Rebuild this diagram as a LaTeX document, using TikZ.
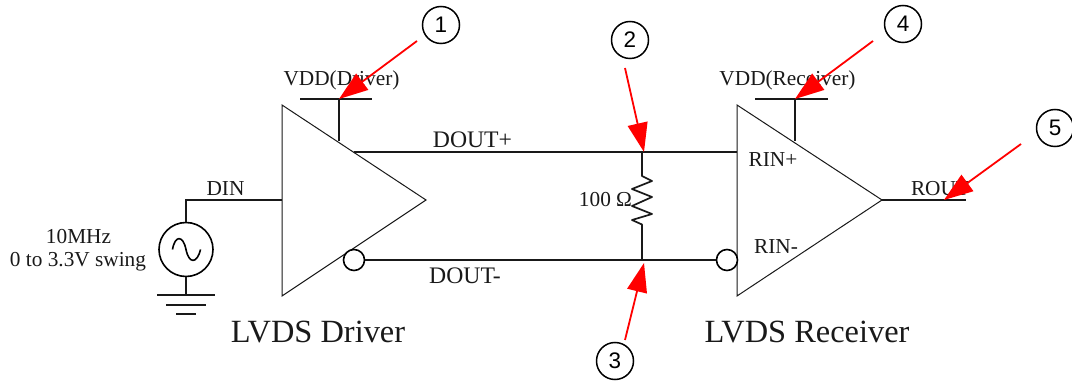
\documentclass[tikz,border=0pt]{standalone}
\usepackage{fontspec}
\setmainfont{Liberation Serif}
\newfontfamily\numfont{Liberation Sans}
\usetikzlibrary{arrows.meta}
\tikzset{
  x=1pt,y=-1pt,
  wire/.style={line width=1.7pt,black!90},
  amp/.style={line width=1pt,black!90,line join=miter},
  callout/.style={line width=1.8pt,red,-{Triangle[length=29pt,width=20pt]},shorten >=0pt},
  badge/.style={circle,draw,line width=1.5pt,minimum size=37pt,inner sep=0pt,font=\numfont\fontsize{22.5}{26}\selectfont},
  bubble/.style={circle,draw,line width=1.6pt,minimum size=21pt,inner sep=0pt,fill=white},
  lab/.style={inner sep=0pt,font=\fontsize{21.3}{24}\selectfont,text=black!90},
  siglab/.style={inner sep=0pt,font=\fontsize{23.7}{26}\selectfont,text=black!90},
  big/.style={inner sep=0pt,font=\fontsize{32.4}{36}\selectfont,text=black!90},
}
\begin{document}
\begin{tikzpicture}
\useasboundingbox (0,0) rectangle (1072,382);
% coordinates
\coordinate (vddA) at (339,99);
\coordinate (vddB) at (795,99);
\coordinate (tapP) at (642,152);
\coordinate (tapN) at (642,260);
\coordinate (rout) at (966,200);
\coordinate (din) at (186,200);
% amplifiers
\draw[amp] (282,105) -- (426,200) -- (282,296) -- cycle;
\draw[amp] (737,105) -- (882,200) -- (737,296) -- cycle;
% supplies
\draw[wire] (300,99) -- (372,99);
\draw[wire] (vddA) -- (339,141);
\draw[wire] (755,99) -- (828,99);
\draw[wire] (vddB) -- (795,141);
% source
\node[circle,draw,line width=1.6pt,minimum size=54pt,inner sep=0pt] (src) at (186,249.5) {};
\draw[line width=1.6pt] (172.5,249.5) .. controls (175,235) and (183,235) .. (186,249.5) .. controls (189,264) and (197,264) .. (200.5,249.5);
\draw[wire] (src.north) -- (din) -- (282,200);
\draw[wire] (src.south) -- (186,295);
\draw[wire] (157,295) -- (215,295);
\draw[wire] (166,305) -- (206,305);
\draw[wire] (176,314) -- (196,314);
% signal lines
\node[bubble] (bubA) at (354,260) {};
\node[bubble] (bubB) at (727,260) {};
\draw[wire] (354,152) -- (tapP) -- (737,152);
\draw[wire] (bubA) -- (tapN) -- (bubB);
\draw[wire] (882,200) -- (rout);
\draw[wire,line join=round] (tapP) -- (642,176) -- (652,181) -- (632,189) -- (652,197) -- (632,206) -- (652,214) -- (632,220) -- (642,224.5) -- (tapN);
% labels
\node[lab] (l1) at (341.5,80.5) {VDD(Driver)};
\node[lab] (l2) at (787.5,80.5) {VDD(Receiver)};
\node[lab] (l3) at (225.5,188.5) {DIN};
\node[siglab] (l4) at (472.5,140) {DOUT+};
\node[siglab] (l5) at (465,275.5) {DOUT-};
\node[lab] (l6) at (605.5,200) {100 Ω};
\node[lab] (l7) at (773,159.5) {RIN+};
\node[lab] (l8) at (776,246.5) {RIN-};
\node[lab] (l9) at (940,188.5) {ROUT};
\node[lab] (l10) at (78.5,236.5) {10MHz};
\node[lab] (l11) at (78,262) {0 to 3.3V swing};
\node[big] (l12) at (318,332) {LVDS Driver};
\node[big] (l13) at (807,332) {LVDS Receiver};
% callouts
\node[badge] (n1) at (441,25) {1};
\node[badge] (n2) at (630,40) {2};
\node[badge] (n3) at (615,361) {3};
\node[badge] (n4) at (903,24) {4};
\node[badge] (n5) at (1055,128) {5};
\coordinate (c1) at (417,41);
\coordinate (c2) at (625,68);
\coordinate (c3) at (625,340);
\coordinate (c4) at (873,41);
\coordinate (c5) at (1021,144);
\coordinate (t2) at (644,152);
\coordinate (t3) at (644,263);
\coordinate (t5) at (944,200);
\draw[callout] (c1) -- (vddA);
\draw[callout] (c2) -- (t2);
\draw[callout] (c3) -- (t3);
\draw[callout] (c4) -- (vddB);
\draw[callout] (c5) -- (t5);
\end{tikzpicture}
\end{document}
